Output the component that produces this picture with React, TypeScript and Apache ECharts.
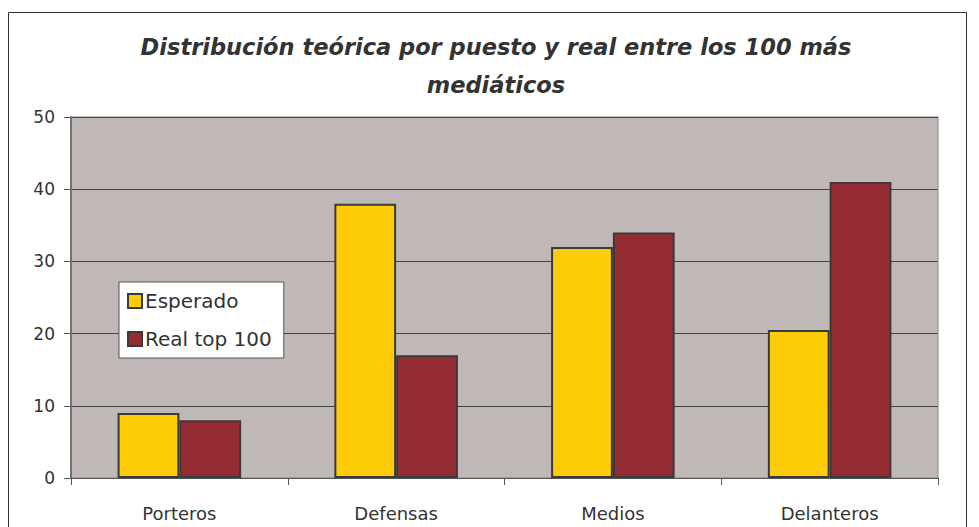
import React, { useEffect, useRef } from "react";
import * as echarts from "echarts";

const categories = ["Porteros", "Defensas", "Medios", "Delanteros"];
const esperado = [9, 38, 32, 20.5];
const realTop100 = [8, 17, 34, 41];
const seriesNames = ["Esperado", "Real top 100"];
const titleText = "Distribución teórica por puesto y real entre los 100 más\nmediáticos";

export default function App() {
  const ref = useRef<HTMLDivElement>(null);
  useEffect(() => {
    if (!ref.current) return;
    const chart = echarts.init(ref.current, null, { renderer: "svg" });
    const font = "DejaVu Sans";
    chart.setOption({
      animation: false,
      backgroundColor: "#ffffff",
      graphic: [
        {
          type: "rect",
          shape: { x: 8.5, y: 12.5, width: 958, height: 530 },
          style: { fill: "none", stroke: "#333333", lineWidth: 1 },
          silent: true,
          z: -1,
        },
      ],
      title: {
        text: titleText,
        left: 491,
        top: 23,
        textAlign: "center",
        padding: 5,
        textStyle: {
          fontFamily: font,
          fontSize: 22.5,
          fontWeight: "bold",
          fontStyle: "italic",
          color: "#333333",
          lineHeight: 38,
        },
      },
      legend: {
        orient: "vertical",
        left: 119,
        top: 282,
        padding: [9, 12, 9, 8],
        itemGap: 18,
        itemWidth: 14,
        itemHeight: 14,
        backgroundColor: "#ffffff",
        borderColor: "#555555",
        borderWidth: 1,
        textStyle: { fontFamily: font, fontSize: 20, color: "#333333", padding: [0, 0, 0, -2] },
        data: seriesNames.map((n) => ({ name: n, icon: "rect" })),
      },
      grid: {
        left: 71,
        top: 117,
        right: 41,
        bottom: 49,
        show: true,
        backgroundColor: "#c0b8b6",
        borderColor: "#8c8482",
        borderWidth: 1,
      },
      xAxis: {
        type: "category",
        data: categories,
        axisLine: { lineStyle: { color: "#555555", width: 1 } },
        axisTick: { show: true, length: 7, lineStyle: { color: "#555555" } },
        axisLabel: { fontFamily: font, fontSize: 18, color: "#333333", margin: 26 },
      },
      yAxis: {
        type: "value",
        min: 0,
        max: 50,
        interval: 10,
        axisLine: { show: true, lineStyle: { color: "#7a7270", width: 2 } },
        axisTick: { show: true, length: 7, lineStyle: { color: "#555555" } },
        axisLabel: { fontFamily: font, fontSize: 17, color: "#333333", margin: 16 },
        splitLine: { lineStyle: { color: "#444444", width: 1 } },
      },
      series: [
        {
          name: seriesNames[0],
          type: "bar",
          data: esperado,
          barGap: "0%",
          barCategoryGap: "43%",
          itemStyle: { color: "#fdcb07", borderColor: "#3a3a3a", borderWidth: 2 },
        },
        {
          name: seriesNames[1],
          type: "bar",
          data: realTop100,
          itemStyle: { color: "#952c33", borderColor: "#3a3a3a", borderWidth: 2 },
        },
      ],
    });
    return () => chart.dispose();
  }, []);
  return (
    <div
      ref={ref}
      style={{ position: "fixed", left: 0, top: 0, width: 979, height: 527 }}
    />
  );
}
